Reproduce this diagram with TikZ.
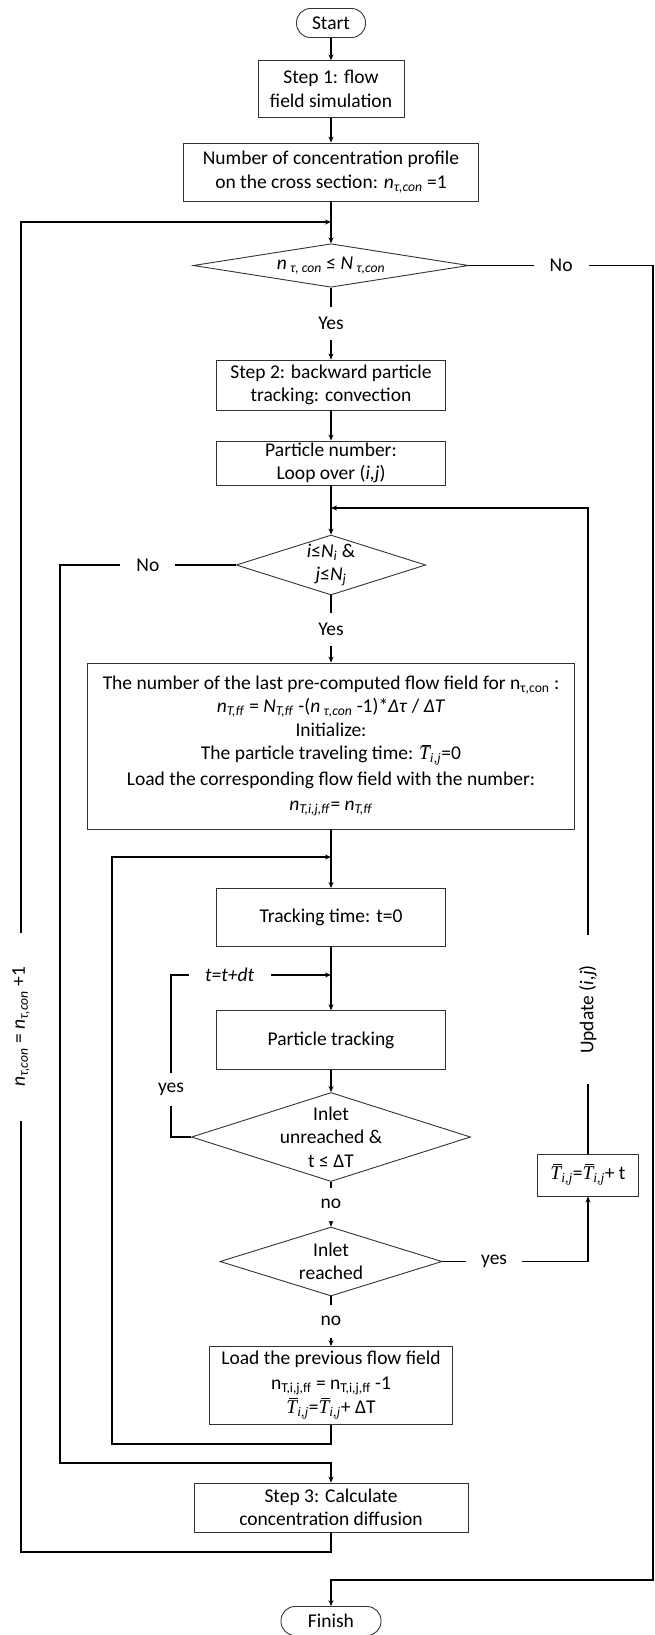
\documentclass[tikz,border=0pt]{standalone}
\usepackage{fontspec}
\setmainfont{Carlito}
\newfontfamily\cmb{Liberation Serif}
\usetikzlibrary{shapes.geometric,arrows.meta}
\newcommand{\sbs}[1]{\textsubscript{#1}}
\newcommand{\Tb}{\mbox{\cmb\itshape\rlap{\hspace{2.5pt}\rule[14.5pt]{9pt}{0.8pt}}T\textsubscript{i,j}}}
\tikzset{
 base/.style={font=\fontsize{19.5}{23.5}\selectfont, align=center, inner sep=0pt, text=black},
 box/.style={base, draw=black!80, line width=0.9pt, rectangle},
 term/.style={box, rounded corners=14pt},
 dia/.style={base, draw=black!80, line width=0.9pt, diamond, shape aspect=1},
 conn/.style={line width=1.4pt, -{Stealth[length=6pt,width=5pt]}},
 lab/.style={base, fill=white, inner xsep=16pt, minimum height=33pt},
}
\begin{document}
\begin{tikzpicture}[x=1pt,y=-1pt]
\useasboundingbox (0,0) rectangle (654,1635);
% nodes
\node[term, minimum width=69pt, minimum height=29pt] (start) at (331,23) {Start};
\node[box, minimum width=146pt, minimum height=56.5pt] (s1) at (331,89) {Step 1: flow\\field simulation};
\node[box, minimum width=294.5pt, minimum height=58pt] (nc) at (331,172) {Number of concentration profile\\on the cross section: \textit{n}\sbs{\textit{τ,con}} =1};
\node[dia, minimum width=275.5pt, minimum height=43.5pt,
  label={[base]center:{\textit{n}\,\sbs{\textit{τ, con}} ≤ \textit{N}\,\sbs{\textit{τ,con}}}}] (d1) at (331,265.5) {};
\node[box, minimum width=229pt, minimum height=50pt] (s2) at (331,385) {Step 2: backward particle\\tracking: convection};
\node[box, minimum width=229pt, minimum height=44pt] (pn) at (331,463) {Particle number:\\Loop over (\textit{i,j})};
\node[dia, minimum width=189.5pt, minimum height=60pt,
  label={[base]center:{\textit{i}≤\textit{N}\sbs{\textit{i}} \&\\\textit{j}≤\textit{N}\sbs{\textit{j}}}}] (d2) at (331,565) {};
\node[box, minimum width=487.5pt, minimum height=166pt] (big) at (331,746) {The number of the last pre-computed flow field for n\sbs{τ,con} :\\
  \textit{n}\sbs{\textit{T,ff}} = \textit{N}\sbs{\textit{T,ff}} -(\textit{n}\,\sbs{\textit{τ,con}} -1)*\textit{Δτ} / \textit{ΔT}\\
  Initialize:\\
  The particle traveling time: \Tb=0\\[2pt]
  Load the corresponding flow field with the number:\\[2pt]
  \textit{n}\sbs{\textit{T,i,j,ff}}= \textit{n}\sbs{\textit{T,ff}}};
\node[box, minimum width=229pt, minimum height=58pt] (tt) at (331,917.5) {Tracking time: t=0};
\node[box, minimum width=229pt, minimum height=58.5pt] (pt) at (331,1040) {Particle tracking};
\node[dia, minimum width=279pt, minimum height=89pt,
  label={[base]center:{Inlet\\unreached \&\\t ≤ ΔT}}] (d3) at (331,1137) {};
\node[dia, minimum width=222pt, minimum height=69pt,
  label={[base]center:{Inlet\\reached}}] (d4) at (331,1261.5) {};
\node[box, minimum width=101.5pt, minimum height=42pt] (T) at (588,1175) {\Tb=\Tb+ t};
\node[box, minimum width=242.5pt, minimum height=78pt] (load) at (331,1385.5) {Load the previous flow field\\[1pt]
  n\sbs{T,i,j,ff} = n\sbs{T,i,j,ff} -1\\[1pt]
  \Tb=\Tb+ ΔT};
\node[box, minimum width=274pt, minimum height=49pt] (s3) at (331,1507.5) {Step 3: Calculate\\concentration diffusion};
\node[term, minimum width=100pt, minimum height=29pt] (fin) at (331,1621) {Finish};
% junction coordinates
\coordinate (j1) at (331,222);
\coordinate (j2) at (331,508);
\coordinate (j3) at (331,857);
\coordinate (j4) at (331,975);
\coordinate (j5) at (331,1463);
% connectors
\draw[conn] (start) -- (s1);
\draw[conn] (s1) -- (nc);
\draw[conn] (nc) -- (d1);
\draw[conn] (d1) -- node[lab]{Yes} (s2);
\draw[conn] (s2) -- (pn);
\draw[conn] (pn) -- (d2);
\draw[conn] (d2) -- node[lab]{Yes} (big);
\draw[conn] (big) -- (tt);
\draw[conn] (tt) -- (pt);
\draw[conn] (pt) -- (d3);
\draw[conn] (d3) -- node[lab]{no} (d4);
\draw[conn] (d4) -- node[lab]{no} (load);
\draw[conn] (d4.east) -- node[lab,pos=0.355,inner xsep=15pt]{yes} (d4.east -| T.south) -- (T.south);
\draw[conn] (T.north) -- node[lab,rotate=90,pos=0.223,inner xsep=30pt]{Update (\textit{i,j})} (T.north |- j2) -- (j2);
\draw[conn] (d3.west) -- (171,1137) -- node[lab,pos=0.296]{yes} (171,975) -- node[lab,pos=0.366,inner xsep=16.5pt]{\textit{t=t+dt}} (j4);
\draw[conn] (load.south) -- (331,1444) -- (112,1444) -- (112,857) -- (j3);
\draw[conn] (d2.west) -- node[lab]{No} (60,565) -- (60,1463) -- (j5) -- (s3.north);
\draw[conn] (s3.south) -- (331,1552) -- (21,1552) -- node[lab,rotate=90,pos=0.395,inner xsep=34pt]{\textit{n}\sbs{\textit{τ,con}} = \textit{n}\sbs{\textit{τ,con}} +1} (21,222) -- (j1);
\draw[conn] (d1.east) -- node[lab]{No} (653,265.5) -- (653,1580) -- (331,1580) -- (fin);
\end{tikzpicture}
\end{document}
